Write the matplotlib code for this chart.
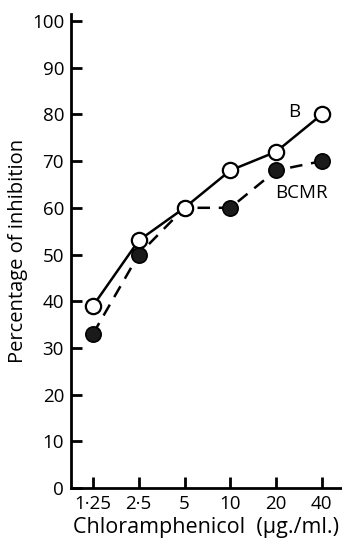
import matplotlib
matplotlib.use("Agg")
import matplotlib.pyplot as plt

concentrations = ["1·25", "2·5", "5", "10", "20", "40"]
inhibition_b = [39, 53, 60, 68, 72, 80]
inhibition_bcmr = [33, 50, 60, 60, 68, 70]
y_ticks = [0, 10, 20, 30, 40, 50, 60, 70, 80, 90, 100]

plt.rcParams["font.family"] = ["Open Sans", "DejaVu Sans"]
FS = 13.5

fig = plt.figure(figsize=(3.42, 5.45), dpi=100)
ax = fig.add_axes([0.2076, 0.1046, 0.7924, 0.8697])

x = list(range(len(concentrations)))
ax.plot(x, inhibition_b, "-", color="black", lw=1.8, marker="o", ms=11,
        mfc="white", mec="black", mew=1.6, zorder=3)
ax.plot(x, inhibition_bcmr, "--", color="black", lw=1.8, dashes=(5, 3.5),
        marker="o", ms=11, mfc="#1a1a1a", mec="black", mew=1.2, zorder=2)

ax.text(4.4, 80.6, "B", fontsize=FS, ha="center", va="center")
ax.text(4.55, 63.2, "BCMR", fontsize=FS, ha="center", va="center")

ax.set_xlim(-0.48, 5.44)
ax.set_ylim(0, 101.5)
ax.set_xticks(x)
ax.set_xticklabels(concentrations)
ax.set_yticks(y_ticks)

for side in ("top", "right"):
    ax.spines[side].set_visible(False)
for side in ("left", "bottom"):
    ax.spines[side].set_linewidth(2)

ax.tick_params(direction="in", length=8, width=2, labelsize=FS, pad=5)
ax.tick_params(axis="y", pad=5)

ax.set_ylabel("Percentage of inhibition", fontsize=14.5, labelpad=3)
ax.set_xlabel("Chloramphenicol  (\u03bcg./ml.)", fontsize=15.5, labelpad=3)

fig.savefig("out.png", dpi=100)
